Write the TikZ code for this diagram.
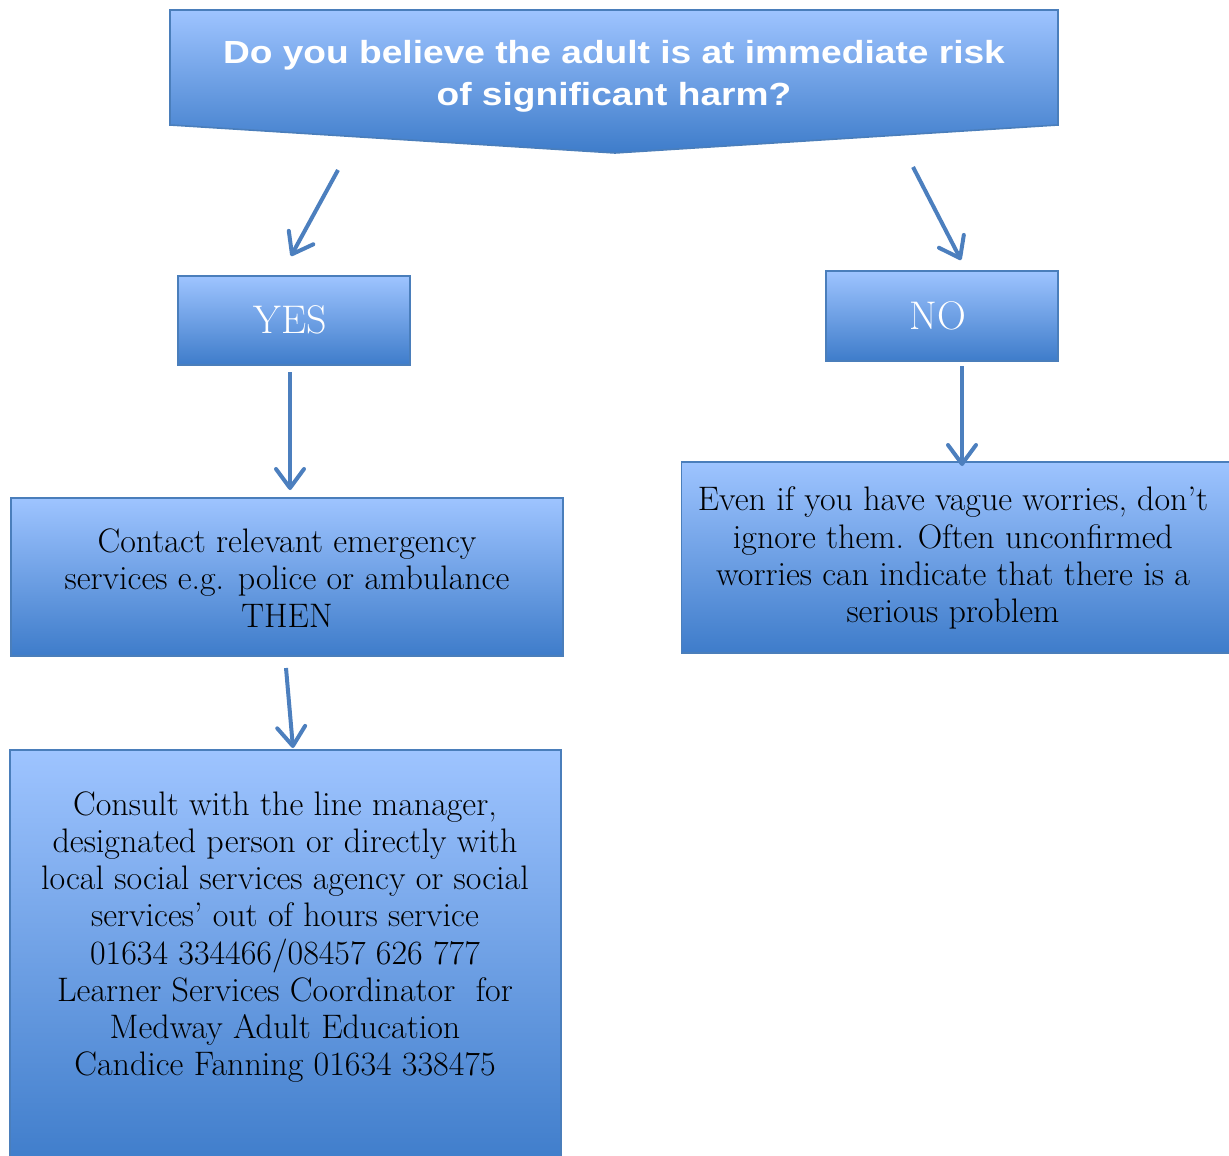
\documentclass[tikz,border=0pt]{standalone}
\usepackage{fontspec}
\newfontfamily\titlefont[FakeStretch=1.16]{Liberation Sans}
\usetikzlibrary{arrows.meta}
\definecolor{boxtop}{RGB}{158,196,255}
\definecolor{boxbot}{RGB}{62,124,202}
\definecolor{boxline}{RGB}{74,126,187}
\definecolor{arrowc}{RGB}{76,127,190}
\begin{document}
\begin{tikzpicture}[x=0.5pt,y=-0.5pt,
  box/.style={draw=boxline, line width=0.8pt, top color=boxtop, bottom color=boxbot, inner sep=0pt},
  body/.style={align=center, text=black, font=\fontsize{17}{18.6}\selectfont},
  yn/.style={text=white, font=\fontsize{20}{22}\selectfont},
  flow/.style={draw=arrowc, line width=2pt, -{Straight Barb[length=9.5pt,width=14pt,round]}}]
\useasboundingbox (0,0) rectangle (1229,1155);
% title shape
\path[draw=boxline, line width=0.8pt, top color=boxtop, bottom color=boxbot]
  (170,10) -- (1058,10) -- (1058,125) -- (615,153) -- (170,125) -- cycle;
\node[align=center, text=white, font=\titlefont\bfseries\fontsize{16}{21}\selectfont] (title) at (614,76)
  {Do you believe the adult is at immediate risk\\of significant harm?};
% yes / no
\node[box, minimum width=116pt, minimum height=44.5pt] (yes) at (294,320.5) {};
\node[yn] (yestext) at (290,320) {YES};
\node[box, minimum width=116pt, minimum height=45pt] (no) at (942,316) {};
\node[yn] (notext) at (938,316) {NO};
% contact
\node[box, minimum width=276pt, minimum height=79pt] (contact) at (287,577) {};
\node[body] (contacttext) at (287,578)
  {Contact relevant emergency\\services e.g. police or ambulance\\THEN};
% even
\node[box, minimum width=275pt, minimum height=95.5pt] (even) at (956.5,557.5) {};
\node[body] (eventext) at (953,558)
  {Even if you have vague worries, don’t\\ignore them. Often unconfirmed\\worries can indicate that there is a\\serious problem};
% consult
\node[box, minimum width=275.5pt, minimum height=210pt] (consult) at (285.5,960) {};
\node[body] (consulttext) at (285,937)
  {Consult with the line manager,\\designated person or directly with\\local social services agency or social\\services’ out of hours service\\01634 334466/08457 626 777\\Learner Services Coordinator\ \ for\\Medway Adult Education\\Candice Fanning 01634 338475};
% arrows
\coordinate (a1s) at (338,170);
\coordinate (a1e) at (291,256);
\coordinate (a2s) at (913,167);
\coordinate (a2e) at (961,260);
\coordinate (a3s) at (290,372);
\coordinate (a3e) at (290,490);
\coordinate (a4s) at (962,366);
\coordinate (a4e) at (962,466);
\coordinate (a5s) at (286,668);
\coordinate (a5e) at (293,748);
\draw[flow] (a1s) -- (a1e);
\draw[flow] (a2s) -- (a2e);
\draw[flow] (a3s) -- (a3e);
\draw[flow] (a4s) -- (a4e);
\draw[flow] (a5s) -- (a5e);
\end{tikzpicture}
\end{document}
